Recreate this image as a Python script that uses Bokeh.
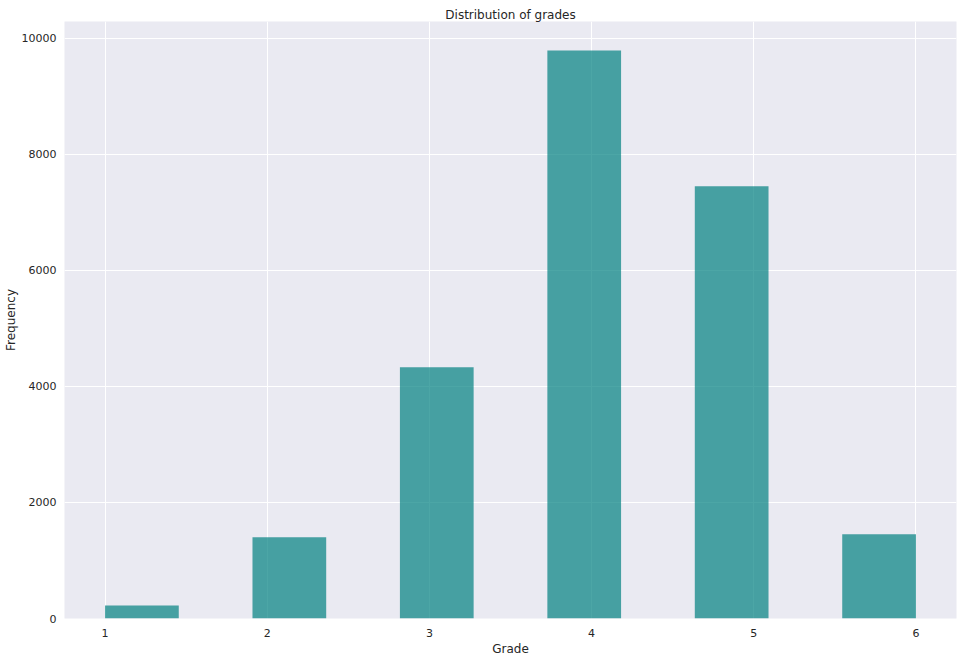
import numpy as np
from bokeh.plotting import figure
from bokeh.models import ColumnDataSource, FixedTicker, Range1d
from bokeh.embed import file_html
from bokeh.resources import INLINE

# data
grades = [1, 2, 3, 4, 5, 6]
counts = [225, 1400, 4330, 9790, 7450, 1450]
n_bins = 11
x_ticks = [1, 2, 3, 4, 5, 6]
y_ticks = [0, 2000, 4000, 6000, 8000, 10000]

edges = np.linspace(min(grades), max(grades), n_bins + 1)
idx = np.clip(np.digitize(grades, edges) - 1, 0, n_bins - 1)
src = ColumnDataSource(dict(left=edges[idx], right=edges[idx + 1], top=counts,
                            bottom=[0] * len(counts)))

FONT = "DejaVu Sans"
TXT = "#262626"

p = figure(frame_width=892, frame_height=597, output_backend="svg", toolbar_location=None,
           title="Distribution of grades",
           x_range=Range1d(0.75, 6.25), y_range=Range1d(0, 10290),
           min_border_left=57, min_border_right=6, min_border_bottom=33, min_border_top=21)
p.background_fill_color = "#EAEAF2"
p.border_fill_color = "white"
p.outline_line_color = None

p.quad(left="left", right="right", top="top", bottom="bottom", source=src,
       fill_color="teal", fill_alpha=0.7, line_color=None)

p.title.align = "center"
p.title.text_font = FONT
p.title.text_font_size = "12px"
p.title.text_font_style = "normal"
p.title.text_color = TXT
p.title.standoff = 0
p.title.offset = 0

p.xaxis.ticker = FixedTicker(ticks=x_ticks)
p.yaxis.ticker = FixedTicker(ticks=y_ticks)
p.xaxis.axis_label = "Grade"
p.yaxis.axis_label = "Frequency"
for ax in (p.xaxis, p.yaxis):
    ax.axis_line_color = None
    ax.major_tick_line_color = None
    ax.minor_tick_line_color = None
    ax.major_tick_out = 0
    ax.major_tick_in = 0
    ax.minor_tick_out = 0
    ax.minor_tick_in = 0
    ax.major_label_text_font = FONT
    ax.major_label_text_font_size = "11px"
    ax.major_label_text_color = TXT
    ax.axis_label_text_font = FONT
    ax.axis_label_text_font_size = "12px"
    ax.axis_label_text_font_style = "normal"
    ax.axis_label_text_color = TXT
p.xaxis.major_label_standoff = 10
p.xaxis.axis_label_standoff = 2
p.yaxis.major_label_standoff = 8
p.yaxis.axis_label_standoff = 1

p.grid.grid_line_color = "white"
p.grid.grid_line_width = 1

open("out.html", "w").write(file_html(p, INLINE))
